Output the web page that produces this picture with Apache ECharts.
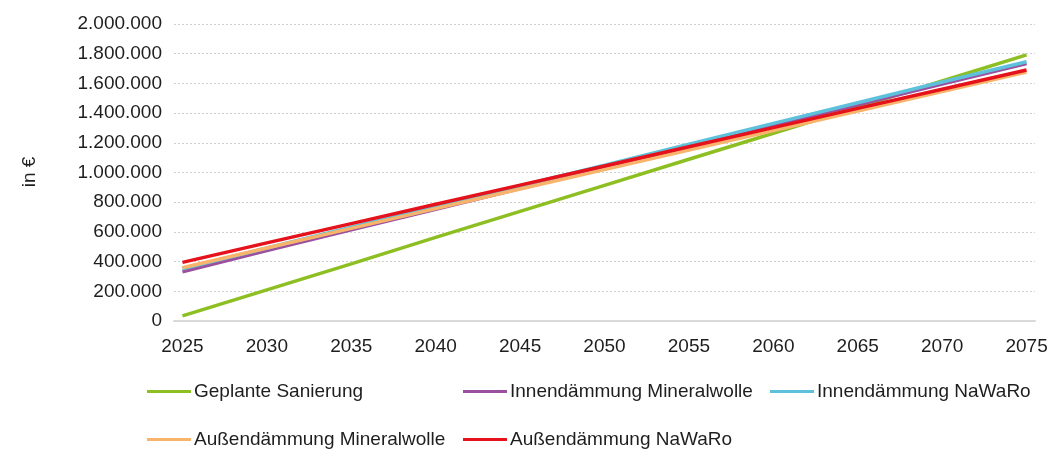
<!DOCTYPE html>
<html>
<head>
<meta charset="utf-8">
<script src="https://cdn.jsdelivr.net/npm/echarts@6/dist/echarts.min.js"></script>
<style>
  html, body { margin: 0; padding: 0; background: #ffffff; }
  #chart { width: 1055px; height: 453px; }
</style>
</head>
<body>
<div id="chart"></div>
<script>
// Category axis: one slot per year
const years = [
  '2025','2026','2027','2028','2029','2030','2031','2032','2033','2034',
  '2035','2036','2037','2038','2039','2040','2041','2042','2043','2044',
  '2045','2046','2047','2048','2049','2050','2051','2052','2053','2054',
  '2055','2056','2057','2058','2059','2060','2061','2062','2063','2064',
  '2065','2066','2067','2068','2069','2070','2071','2072','2073','2074',
  '2075'
];

// Years at which the cumulative costs are given (every 5 years)
const sampleYears = ['2025','2030','2035','2040','2045','2050','2055','2060','2065','2070','2075'];

// Cumulative costs in € per variant
const geplanteSanierung  = [35000, 210000, 385000, 563000, 738000, 913000, 1089000, 1264000, 1440000, 1616000, 1792000];
const innenMineralwolle  = [332000, 474000, 614000, 752000, 892000, 1034000, 1174000, 1316000, 1456000, 1595000, 1733000];
const innenNaWaRo        = [352000, 492000, 632000, 771000, 911000, 1050000, 1190000, 1331000, 1470000, 1609000, 1746000];
const aussenMineralwolle = [359000, 492000, 624000, 757000, 889000, 1020000, 1151000, 1282000, 1413000, 1545000, 1676000];
const aussenNaWaRo       = [395000, 526000, 656000, 786000, 915000, 1044000, 1173000, 1302000, 1432000, 1561000, 1690000];

const seriesNames = [
  'Geplante Sanierung',
  'Innendämmung Mineralwolle',
  'Innendämmung NaWaRo',
  'Außendämmung Mineralwolle',
  'Außendämmung NaWaRo'
];
const seriesValues = [geplanteSanierung, innenMineralwolle, innenNaWaRo, aussenMineralwolle, aussenNaWaRo];
const seriesColors = ['#8DBF22', '#9B4F9F', '#5EC1DB', '#F9B46B', '#E5111B'];

const FONT = '"Liberation Sans", Arial, sans-serif';
const FONT_SIZE = 19;
const TEXT_COLOR = '#1e1e1e';

function formatDe(v) {
  return String(v).replace(/\B(?=(\d{3})+(?!\d))/g, '.');
}

const series = seriesNames.map((name, i) => ({
  name: name,
  type: 'line',
  data: sampleYears.map((y, k) => [y, seriesValues[i][k]]),
  showSymbol: false,
  symbol: 'none',
  lineStyle: { width: 3.5, color: seriesColors[i] },
  itemStyle: { color: seriesColors[i] },
  z: 2 + i
}));

// Legend laid out in a fixed grid of slots
const legendSlots = [
  { left: 147, top: 382 },
  { left: 463, top: 382 },
  { left: 770, top: 382 },
  { left: 147, top: 430 },
  { left: 463, top: 430 }
];
const legends = seriesNames.map((name, i) => ({
  data: [{ name: name, icon: 'rect' }],
  left: legendSlots[i].left,
  top: legendSlots[i].top,
  padding: 0,
  itemWidth: 44,
  itemHeight: 3,
  selectedMode: false,
  textStyle: { fontFamily: FONT, fontSize: FONT_SIZE, color: TEXT_COLOR, padding: [0, 0, 0, -2] }
}));

const chart = echarts.init(document.getElementById('chart'), null, { renderer: 'canvas' });
chart.setOption({
  animation: false,
  backgroundColor: '#ffffff',
  grid: { left: 174, right: 20, top: 24, bottom: 132, containLabel: false },
  legend: legends,
  xAxis: {
    type: 'category',
    data: years,
    boundaryGap: true,
    axisLine: { show: true, lineStyle: { color: '#d9d9d9', width: 2 } },
    axisTick: { show: false },
    axisLabel: {
      interval: 4,
      margin: 16,
      fontFamily: FONT,
      fontSize: FONT_SIZE,
      color: TEXT_COLOR
    },
    splitLine: { show: false }
  },
  yAxis: {
    type: 'value',
    min: 0,
    max: 2000000,
    interval: 200000,
    axisLine: { show: false },
    axisTick: { show: false },
    axisLabel: {
      margin: 12,
      fontFamily: FONT,
      fontSize: FONT_SIZE,
      color: TEXT_COLOR,
      formatter: formatDe
    },
    splitLine: { show: true, lineStyle: { color: '#cfcfcf', width: 1, type: [2, 2] } }
  },
  graphic: [{
    type: 'text',
    x: 30,
    y: 172,
    rotation: Math.PI / 2,
    style: {
      text: 'in €',
      font: FONT_SIZE + 'px ' + FONT,
      fill: TEXT_COLOR,
      align: 'center',
      verticalAlign: 'middle'
    }
  }],
  series: series
});
</script>
</body>
</html>
